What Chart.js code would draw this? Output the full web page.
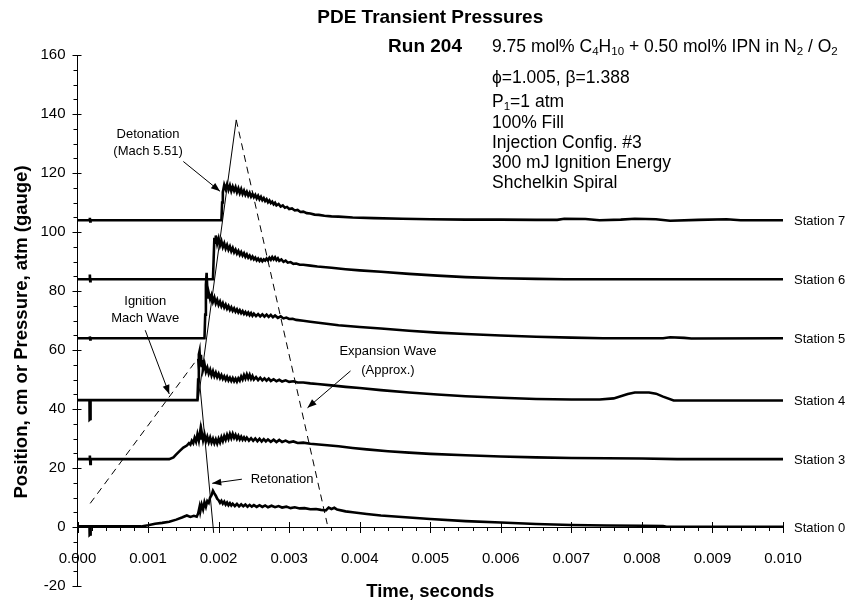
<!DOCTYPE html>
<html>
<head>
<meta charset="utf-8">
<title>PDE Transient Pressures</title>
<script src="https://cdn.jsdelivr.net/npm/chart.js@4/dist/chart.umd.min.js"></script>
<style>
  html, body { margin: 0; padding: 0; background: #fff; }
  #wrap { width: 852px; height: 607px; }
</style>
</head>
<body>
<div id="wrap"><canvas id="pdeChart" width="852" height="607"></canvas></div>
<script>
// Pressure traces, [time (s), position cm / pressure atm]
const station7 = [[0,104],[0.00017,104],[0.000175,104.8],[0.00018,103.6],[0.000185,104],[0.00204,104],[0.00205,110],[0.00206,113.5],[0.00208,116.0],[0.0021,114.6],[0.00212,116.2],[0.00214,114.3],[0.00216,115.8],[0.00218,113.9],[0.0022,115.4],[0.00222,114.0],[0.00224,115.2],[0.00226,113.5],[0.00228,114.8],[0.0023,113.2],[0.00232,114.5],[0.00234,112.9],[0.00236,114.0],[0.00238,112.6],[0.0024,113.6],[0.00242,112.3],[0.00244,113.3],[0.00246,112.0],[0.00248,112.9],[0.0025,111.8],[0.00252,112.6],[0.00254,111.4],[0.00256,112.3],[0.00258,111.1],[0.0026,111.9],[0.00262,110.8],[0.00264,111.5],[0.00266,110.5],[0.00268,111.1],[0.0027,110.1],[0.00272,110.7],[0.00274,109.8],[0.00276,110.3],[0.00278,109.4],[0.0028,109.9],[0.00282,109.0],[0.00285,109.5],[0.00288,108.6],[0.00291,109.0],[0.00294,108.2],[0.00297,108.5],[0.003,107.8],[0.00304,108.0],[0.00308,107.3],[0.00312,107.5],[0.00316,106.8],[0.0032,106.9],[0.00325,106.4],[0.0033,106.3],[0.00336,105.9],[0.00342,105.8],[0.0035,105.5],[0.0036,105.3],[0.0037,105.2],[0.0039,104.9],[0.0042,104.7],[0.0046,104.5],[0.005,104.3],[0.0055,104.2],[0.006,104.2],[0.0065,104.1],[0.0068,104.1],[0.0069,104.5],[0.0072,104.4],[0.0074,104.0],[0.0077,104.2],[0.0079,104.5],[0.0082,104.3],[0.0084,103.8],[0.0088,104.1],[0.0092,104.3],[0.0094,104.0],[0.01,104]];
const station6 = [[0,84],[0.00017,84],[0.000175,85.6],[0.00018,83.3],[0.000185,84],[0.00192,84],[0.00193,91],[0.00194,98.0],[0.00195,96.4],[0.00196,98.8],[0.00198,96.0],[0.002,97.8],[0.00202,95.4],[0.00204,96.9],[0.00206,94.9],[0.00208,96.2],[0.0021,94.4],[0.00212,95.6],[0.00214,94.0],[0.00216,95.1],[0.00218,93.5],[0.0022,94.6],[0.00222,93.1],[0.00224,94.0],[0.00226,92.7],[0.00228,93.6],[0.0023,92.3],[0.00232,93.2],[0.00234,92.0],[0.00236,92.8],[0.00238,91.6],[0.0024,92.4],[0.00242,91.3],[0.00244,92.0],[0.00246,91.0],[0.00248,91.7],[0.0025,90.7],[0.00252,91.3],[0.00254,90.4],[0.00256,91.0],[0.00258,90.2],[0.0026,90.8],[0.00262,90.1],[0.00264,90.7],[0.00266,90.3],[0.00268,91.0],[0.0027,90.4],[0.00272,91.3],[0.00274,90.6],[0.00276,91.5],[0.00278,90.7],[0.0028,91.4],[0.00282,90.5],[0.00284,91.1],[0.00286,90.2],[0.00289,90.7],[0.00292,89.9],[0.00295,90.3],[0.00298,89.6],[0.00302,89.8],[0.00306,89.2],[0.0031,89.3],[0.00315,88.9],[0.0032,88.9],[0.0033,88.6],[0.0034,88.3],[0.0036,87.9],[0.0038,87.4],[0.004,87.0],[0.0043,86.5],[0.0047,85.8],[0.0051,85.2],[0.0055,84.7],[0.006,84.3],[0.0065,84.1],[0.0069,84.0],[0.01,84]];
const station5 = [[0,64],[0.00017,64],[0.000175,64.6],[0.00018,63.6],[0.000185,64],[0.0018,64],[0.00181,72],[0.00182,82],[0.00183,86.2],[0.00184,80.5],[0.00185,77.8],[0.00186,79.4],[0.00188,77.2],[0.0019,78.6],[0.00192,76.4],[0.00194,77.8],[0.00196,75.8],[0.00198,77.0],[0.002,75.3],[0.00202,76.4],[0.00204,74.8],[0.00206,75.9],[0.00208,74.4],[0.0021,75.4],[0.00212,74.0],[0.00214,74.9],[0.00216,73.6],[0.00218,74.5],[0.0022,73.3],[0.00222,74.1],[0.00224,73.0],[0.00226,73.8],[0.00228,72.7],[0.0023,73.5],[0.00232,72.5],[0.00234,73.2],[0.00236,72.2],[0.00238,72.9],[0.0024,72.0],[0.00242,72.7],[0.00244,71.8],[0.00246,72.5],[0.00248,71.6],[0.0025,72.3],[0.00253,71.5],[0.00256,72.2],[0.00259,71.4],[0.00262,72.1],[0.00265,71.3],[0.00268,72.0],[0.00271,71.2],[0.00274,71.9],[0.00277,71.1],[0.0028,71.7],[0.00284,70.9],[0.00288,71.4],[0.00292,70.7],[0.00296,71.0],[0.003,70.5],[0.00305,70.6],[0.0031,70.2],[0.0032,69.9],[0.0033,69.6],[0.0035,69.0],[0.0037,68.4],[0.004,67.8],[0.0043,67.3],[0.0047,66.5],[0.0051,65.9],[0.0055,65.4],[0.006,64.9],[0.0065,64.5],[0.007,64.2],[0.00745,64.0],[0.0083,64.0],[0.0084,64.3],[0.0086,64.1],[0.0087,63.9],[0.01,64]];
const station4 = [[0,43],[0.00017,43],[0.000172,36.4],[0.000182,36.6],[0.000185,43],[0.0017,43],[0.00171,50],[0.00172,58.5],[0.00173,59.6],[0.00174,55.0],[0.00175,58.4],[0.00176,54.2],[0.00177,56.6],[0.00178,53.4],[0.0018,55.3],[0.00182,52.6],[0.00184,54.0],[0.00186,52.0],[0.00188,53.3],[0.0019,51.4],[0.00192,52.8],[0.00194,51.1],[0.00196,52.3],[0.00198,50.8],[0.002,51.9],[0.00202,50.5],[0.00204,51.5],[0.00206,50.2],[0.00208,51.1],[0.0021,49.9],[0.00212,50.9],[0.00214,49.7],[0.00216,50.6],[0.00218,49.5],[0.0022,50.5],[0.00222,49.4],[0.00224,50.3],[0.00226,49.3],[0.00228,50.4],[0.0023,49.6],[0.00232,51.0],[0.00234,50.0],[0.00236,51.5],[0.00238,50.3],[0.0024,51.7],[0.00242,50.4],[0.00244,51.6],[0.00246,50.2],[0.00248,51.2],[0.0025,50.0],[0.00253,50.8],[0.00256,49.8],[0.00259,50.6],[0.00262,49.7],[0.00265,50.4],[0.00268,49.6],[0.00271,50.3],[0.00274,49.5],[0.00278,50.1],[0.00282,49.4],[0.00286,49.9],[0.0029,49.3],[0.00295,49.7],[0.003,49.2],[0.00306,49.4],[0.00312,49.0],[0.0032,49.0],[0.0033,48.7],[0.0034,48.5],[0.0036,48.0],[0.0038,47.5],[0.004,47.1],[0.0043,46.4],[0.0047,45.6],[0.0051,44.9],[0.0055,44.3],[0.006,43.8],[0.0065,43.4],[0.007,43.2],[0.0074,43.2],[0.0076,43.6],[0.0078,45.1],[0.0079,45.6],[0.0081,45.6],[0.0082,45.2],[0.0083,44.2],[0.00845,42.9],[0.01,42.9]];
const station3 = [[0,23],[0.00017,23],[0.000175,24.2],[0.000182,21.4],[0.000188,23],[0.0013,23],[0.00136,23.6],[0.0014,24.6],[0.00145,25.8],[0.0015,26.9],[0.00155,27.6],[0.00158,28.4],[0.0016,27.9],[0.00162,29.2],[0.00164,28.4],[0.00166,30.2],[0.00168,28.9],[0.0017,31.4],[0.00172,29.3],[0.00174,32.6],[0.00175,29.6],[0.00176,32.2],[0.00178,29.4],[0.0018,31.4],[0.00182,29.0],[0.00184,30.6],[0.00186,28.8],[0.00188,30.3],[0.0019,28.6],[0.00192,29.9],[0.00194,28.4],[0.00196,29.7],[0.00198,28.3],[0.002,29.9],[0.00202,28.7],[0.00204,30.4],[0.00206,29.1],[0.00208,30.8],[0.0021,29.6],[0.00212,31.2],[0.00214,29.9],[0.00216,31.5],[0.00218,30.1],[0.0022,31.6],[0.00222,30.2],[0.00224,31.2],[0.00226,29.9],[0.00228,30.9],[0.0023,29.7],[0.00232,30.6],[0.00234,29.6],[0.00236,30.4],[0.00238,29.5],[0.0024,30.3],[0.00243,29.3],[0.00246,30.1],[0.00249,29.2],[0.00252,30.0],[0.00255,29.1],[0.00258,29.9],[0.00261,29.0],[0.00264,29.8],[0.00267,29.0],[0.0027,29.7],[0.00274,28.9],[0.00278,29.6],[0.00282,28.8],[0.00286,29.5],[0.0029,28.8],[0.00295,29.3],[0.003,28.7],[0.00306,29.0],[0.00312,28.5],[0.0032,28.6],[0.0033,28.2],[0.0035,27.8],[0.0037,27.4],[0.0039,26.8],[0.0041,26.3],[0.0044,25.7],[0.0047,25.2],[0.005,24.8],[0.0055,24.3],[0.006,23.9],[0.0065,23.6],[0.007,23.4],[0.0075,23.3],[0.008,23.2],[0.0085,23.0],[0.01,23.0]];
const station0 = [[0,0.2],[0.00017,0.2],[0.000172,-2.7],[0.000182,-2.5],[0.000186,0.2],[0.0009,0.2],[0.001,0.6],[0.0011,1.1],[0.0012,1.4],[0.0013,1.8],[0.0014,2.5],[0.00148,3.2],[0.00155,3.9],[0.0016,3.4],[0.00165,3.8],[0.00169,3.5],[0.00171,4.6],[0.00173,6.8],[0.00174,5.2],[0.00176,7.6],[0.00178,6.0],[0.0018,8.4],[0.00182,6.9],[0.00184,8.8],[0.00186,8.2],[0.00188,10.0],[0.0019,10.8],[0.00192,12.3],[0.00194,11.4],[0.00196,10.6],[0.00198,9.6],[0.002,9.1],[0.00202,8.2],[0.00204,8.9],[0.00206,7.9],[0.00208,8.6],[0.0021,7.6],[0.00212,8.3],[0.00214,7.4],[0.00216,8.1],[0.00218,7.3],[0.0022,7.9],[0.00223,7.1],[0.00226,7.8],[0.00229,7.0],[0.00232,7.7],[0.00235,7.0],[0.00238,7.6],[0.00241,6.9],[0.00244,7.5],[0.00247,6.9],[0.0025,7.4],[0.00254,6.8],[0.00258,7.4],[0.00262,6.8],[0.00266,7.3],[0.0027,6.7],[0.00275,7.2],[0.0028,6.7],[0.00285,7.1],[0.0029,6.6],[0.00296,6.9],[0.00302,6.4],[0.00308,6.7],[0.00315,6.3],[0.00322,6.4],[0.0033,6.0],[0.00338,6.1],[0.00345,5.8],[0.00352,5.6],[0.00356,6.6],[0.0036,6.1],[0.00364,6.5],[0.00368,5.9],[0.0038,5.3],[0.0039,5.0],[0.0041,4.4],[0.0043,3.9],[0.0046,3.4],[0.005,2.7],[0.0055,2.0],[0.006,1.5],[0.0065,1.0],[0.007,0.7],[0.0075,0.5],[0.008,0.4],[0.0083,0.3],[0.00835,0.1],[0.01,0.1]];

// wave trajectories
const detonationPath = [[0.00171,43],[0.00225,138]];
const retonationPath = [[0.0017,57],[0.00193,-2]];
const ignitionWavePath = [[0.00018,8],[0.0017,57]];
const expansionWavePath = [[0.00225,138],[0.00354,1]];

const stationNames = ['Station 7','Station 6','Station 5','Station 4','Station 3','Station 0'];
const stationLevels = [104, 84, 64, 43, 23, 0];

const xTicks = [0,0.001,0.002,0.003,0.004,0.005,0.006,0.007,0.008,0.009,0.010];
const yTicks = [-20,0,20,40,60,80,100,120,140,160];

// annotation text lines [t, value, text] and arrows [t1, v1, t2, v2]
const noteLabels = [
  [0.001, 133, 'Detonation'], [0.001, 127.3, '(Mach 5.51)'],
  [0.00096, 76.4, 'Ignition'], [0.00096, 70.7, 'Mach Wave'],
  [0.0044, 59.6, 'Expansion Wave'], [0.0044, 53.2, '(Approx.)'],
  [0.0029, 16.2, 'Retonation']
];
const noteArrows = [
  [0.0015, 123.9, 0.00202, 113.8],
  [0.00096, 66.7, 0.0013, 45.1],
  [0.00387, 52.9, 0.00326, 40.4],
  [0.00233, 16.2, 0.00191, 14.8]
];

const runLabel = 'Run 204';
const conditions = [
  [['9.75 mol% C',0],['4',1],['H',0],['10',1],[' + 0.50 mol% IPN in N',0],['2',1],[' / O',0],['2',1]],
  [['\u03d5=1.005, \u03b2=1.388',0]],
  [['P',0],['1',1],['=1 atm',0]],
  [['100% Fill',0]],
  [['Injection Config. #3',0]],
  [['300 mJ Ignition Energy',0]],
  [['Shchelkin Spiral',0]]
];
const conditionRows = [47, 78, 102, 123, 143, 163, 183];

const FONT = '"Liberation Sans", Arial, Helvetica, sans-serif';

const toXY = arr => arr.map(p => ({x: p[0], y: p[1]}));

function traceSet(arr) {
  return { data: toXY(arr), borderColor: '#000', borderWidth: 2.6, pointRadius: 0, tension: 0, fill: false };
}
function pathSet(arr, dashed) {
  return { data: toXY(arr), borderColor: '#000', borderWidth: 1, pointRadius: 0, tension: 0, fill: false,
           borderDash: dashed ? [7, 5] : [] };
}

function drawArrow(ctx, x1, y1, x2, y2) {
  ctx.beginPath(); ctx.moveTo(x1, y1); ctx.lineTo(x2, y2); ctx.stroke();
  const a = Math.atan2(y2 - y1, x2 - x1), len = 9, w = 3.5;
  ctx.beginPath();
  ctx.moveTo(x2, y2);
  ctx.lineTo(x2 - len * Math.cos(a) + w * Math.sin(a), y2 - len * Math.sin(a) - w * Math.cos(a));
  ctx.lineTo(x2 - len * Math.cos(a) - w * Math.sin(a), y2 - len * Math.sin(a) + w * Math.cos(a));
  ctx.closePath(); ctx.fill();
}

function drawRich(ctx, parts, x, y, size) {
  let cx = x;
  parts.forEach(([t, sub]) => {
    const s = sub ? size * 0.66 : size;
    ctx.font = s + 'px ' + FONT;
    ctx.fillText(t, cx, sub ? y + size * 0.25 : y);
    cx += ctx.measureText(t).width;
  });
}

// tick marks, titles, notes and station names
const decorations = {
  id: 'decorations',
  afterDraw(chart) {
    const {ctx, chartArea, scales: {x, y}} = chart;
    const y0 = y.getPixelForValue(0);
    const xl = chartArea.left;
    ctx.save();
    ctx.strokeStyle = '#000';
    ctx.fillStyle = '#000';
    ctx.lineWidth = 1;

    // y ticks: majors cross the axis, minors on the outside
    for (let v = -20; v <= 160; v += 5) {
      const py = Math.round(y.getPixelForValue(v)) + 0.5;
      const major = v % 20 === 0;
      ctx.beginPath();
      ctx.moveTo(xl - (major ? 5 : 4), py);
      ctx.lineTo(xl + (major ? 4 : 0), py);
      ctx.stroke();
    }
    // x ticks
    for (let i = 0; i <= 50; i++) {
      const px = Math.round(x.getPixelForValue(i * 0.0002)) + 0.5;
      const major = i % 5 === 0;
      ctx.beginPath();
      ctx.moveTo(px, y0 - (major ? 5 : 0));
      ctx.lineTo(px, y0 + (major ? 6 : 4));
      ctx.stroke();
    }

    ctx.textBaseline = 'middle';
    ctx.textAlign = 'center';
    const mid = (chartArea.left + chartArea.right) / 2;
    ctx.font = 'bold 19px ' + FONT;
    ctx.fillText('PDE Transient Pressures', mid, 18);
    ctx.font = 'bold 18.5px ' + FONT;
    ctx.fillText('Time, seconds', mid, 592);
    ctx.save();
    ctx.translate(22, 332);
    ctx.rotate(-Math.PI / 2);
    ctx.fillText('Position, cm or Pressure, atm (gauge)', 0, 0);
    ctx.restore();

    ctx.textAlign = 'right';
    ctx.font = 'bold 19px ' + FONT;
    ctx.fillText(runLabel, 462, conditionRows[0]);
    ctx.textAlign = 'left';
    conditions.forEach((parts, i) => drawRich(ctx, parts, 492, conditionRows[i], 17.5));

    // annotations
    ctx.textAlign = 'center';
    ctx.font = '13px ' + FONT;
    noteLabels.forEach(([t, v, s]) => ctx.fillText(s, x.getPixelForValue(t), y.getPixelForValue(v)));
    noteArrows.forEach(([t1, v1, t2, v2]) => drawArrow(ctx,
      x.getPixelForValue(t1), y.getPixelForValue(v1), x.getPixelForValue(t2), y.getPixelForValue(v2)));

    // station names at the right end of each trace
    ctx.textAlign = 'left';
    stationNames.forEach((s, i) => ctx.fillText(s, chartArea.right + 11, y.getPixelForValue(stationLevels[i]) + 1));
    ctx.restore();
  }
};

new Chart(document.getElementById('pdeChart'), {
  type: 'line',
  data: {
    datasets: [
      traceSet(station7), traceSet(station6), traceSet(station5),
      traceSet(station4), traceSet(station3), traceSet(station0),
      pathSet(detonationPath, false), pathSet(retonationPath, false),
      pathSet(ignitionWavePath, true), pathSet(expansionWavePath, true)
    ]
  },
  options: {
    responsive: false,
    animation: false,
    layout: { padding: { top: 55, bottom: 17, left: 0, right: 69 } },
    plugins: { legend: { display: false }, tooltip: { enabled: false }, title: { display: false } },
    scales: {
      x: {
        type: 'linear', min: 0, max: 0.01,
        position: { y: 0 },
        afterBuildTicks(scale) { scale.ticks = xTicks.map(v => ({value: v})); },
        ticks: { callback: v => v.toFixed(3), font: { family: FONT, size: 15 }, color: '#000', padding: 23, maxRotation: 0, autoSkip: false },
        grid: { display: false, drawTicks: false },
        border: { display: true, color: '#000', width: 1 },
        afterFit(scale) { scale.height = 0; }
      },
      y: {
        min: -20, max: 160,
        afterBuildTicks(scale) { scale.ticks = yTicks.map(v => ({value: v})); },
        ticks: { font: { family: FONT, size: 15 }, color: '#000', padding: 12 },
        grid: { display: false, drawTicks: false },
        border: { display: true, color: '#000', width: 1 },
        afterFit(scale) { scale.width = 77.5; }
      }
    }
  },
  plugins: [decorations]
});
</script>
</body>
</html>
